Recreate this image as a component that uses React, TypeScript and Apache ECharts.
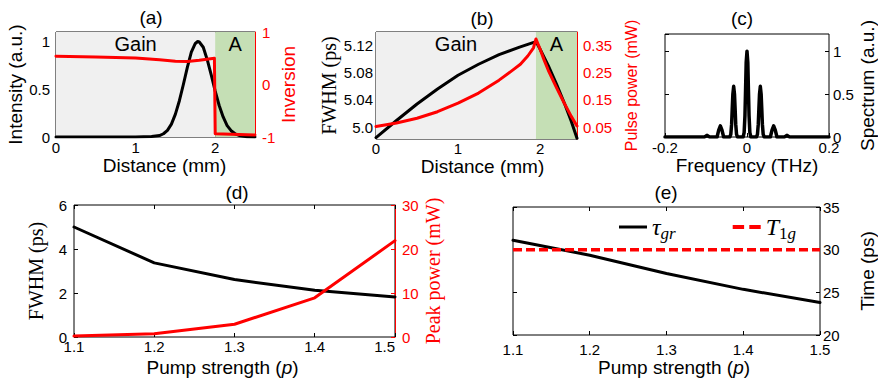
import React, { useEffect, useRef } from "react";
import * as echarts from "echarts";

// ---------- (a) ----------
const aIntX = [0, 0.5, 1.0, 1.1, 1.2, 1.3, 1.35, 1.4, 1.45, 1.5, 1.55, 1.6, 1.65, 1.7, 1.75, 1.78, 1.8, 1.85, 1.9, 1.95, 2.0, 2.05, 2.1, 2.15, 2.2, 2.25, 2.3, 2.4, 2.5];
const aIntY = [0, 0, 0, 0.002, 0.005, 0.015, 0.034, 0.07, 0.135, 0.24, 0.38, 0.55, 0.73, 0.89, 0.98, 1.0, 0.995, 0.94, 0.81, 0.65, 0.48, 0.33, 0.21, 0.12, 0.066, 0.034, 0.016, 0.003, 0];
const aInvX = [0, 0.5, 1.0, 1.3, 1.5, 1.65, 1.8, 1.99, 2.0, 2.5];
const aInvY = [0.54, 0.525, 0.505, 0.47, 0.445, 0.44, 0.46, 0.5, -0.94, -0.96];
const aGainEnd = 2.0;
const aXMax = 2.5;

// ---------- (b) ----------
const bFwhmX = [0, 0.25, 0.5, 0.75, 1.0, 1.25, 1.5, 1.75, 1.95, 2.0, 2.05, 2.1, 2.2, 2.3, 2.38, 2.45];
const bFwhmY = [4.985, 5.01, 5.034, 5.056, 5.076, 5.092, 5.106, 5.117, 5.125, 5.114, 5.102, 5.09, 5.063, 5.034, 5.009, 4.984];
const bPowX = [0, 0.25, 0.5, 0.75, 1.0, 1.25, 1.5, 1.65, 1.76, 1.85, 1.92, 1.95, 2.0, 2.05, 2.1, 2.2, 2.3, 2.38, 2.45];
const bPowY = [0.053, 0.066, 0.083, 0.107, 0.138, 0.175, 0.222, 0.255, 0.28, 0.31, 0.34, 0.372, 0.335, 0.295, 0.258, 0.195, 0.135, 0.09, 0.055];
const bGainEnd = 1.95;
const bXMax = 2.45;
const bLeftTicks = [5.0, 5.04, 5.08, 5.12];
const bRightTicks = [0.05, 0.15, 0.25, 0.35];

// ---------- (c) ----------
const cSpecX = [
  -0.2, -0.104, -0.1, -0.0975, -0.095, -0.091,
  -0.073, -0.069, -0.065, -0.061, -0.057,
  -0.042, -0.0395, -0.0375, -0.036, -0.0345, -0.0325, -0.0305, -0.029, -0.0275, -0.0255, -0.023,
  -0.0095, -0.007, -0.005, -0.0035, -0.002, 0, 0.002, 0.0035, 0.005, 0.007, 0.0095,
  0.023, 0.0255, 0.0275, 0.029, 0.0305, 0.0325, 0.0345, 0.036, 0.0375, 0.0395, 0.042,
  0.057, 0.061, 0.065, 0.069, 0.073,
  0.091, 0.095, 0.0975, 0.1, 0.104, 0.2,
];
const cSpecY = [
  0, 0, 0.01, 0.02, 0.01, 0,
  0, 0.08, 0.13, 0.08, 0,
  0, 0.03, 0.15, 0.33, 0.5, 0.59, 0.5, 0.33, 0.15, 0.03, 0,
  0, 0.05, 0.25, 0.55, 0.87, 1.0, 0.87, 0.55, 0.25, 0.05, 0,
  0, 0.03, 0.15, 0.33, 0.5, 0.59, 0.5, 0.33, 0.15, 0.03, 0,
  0, 0.08, 0.13, 0.08, 0,
  0, 0.01, 0.02, 0.01, 0, 0,
];

// ---------- (d) & (e) ----------
const pump = [1.1, 1.2, 1.3, 1.4, 1.5];
const dFwhm = [5.0, 3.37, 2.61, 2.13, 1.82];
const dPeakPower = [0.2, 0.76, 2.9, 8.9, 21.9];
const eTauGr = [31.1, 29.35, 27.2, 25.35, 23.8];
const eT1g = [30, 30, 30, 30, 30];

const RED = "#ff0000";
const GRAY_BG = "#f0f0f0";
const GREEN_BG = "#c5dfb5";
const SANS = "Liberation Sans, Arial, sans-serif";
const SERIF = "Liberation Serif, Times New Roman, serif";
const TICK_FS = 15;

const zip = (xs: number[], ys: number[]) => xs.map((x, i) => [x, ys[i]]);

function xAx(grid: number, min: number, max: number, interval: number, extra: any = {}) {
  return {
    type: "value",
    gridIndex: grid,
    min,
    max,
    interval,
    splitLine: { show: false },
    axisLine: { show: false, onZero: false },
    axisTick: { show: true, inside: true, length: 4, lineStyle: { color: "#000" } },
    axisLabel: { color: "#000", fontSize: TICK_FS, fontFamily: SANS, margin: 3 },
    nameLocation: "middle",
    nameTextStyle: { color: "#000", fontSize: 19, fontFamily: SANS },
    ...extra,
  };
}

function yAx(grid: number, position: string, min: number, max: number, interval: number | undefined, color: string, extra: any = {}) {
  const o: any = {
    type: "value",
    gridIndex: grid,
    position,
    min,
    max,
    splitLine: { show: false },
    axisLine: { show: color !== "#000", onZero: false, lineStyle: { color, width: 1 } },
    axisTick: { show: true, inside: true, length: 4, lineStyle: { color } },
    axisLabel: { color, fontSize: TICK_FS, fontFamily: SANS, margin: 6 },
    nameLocation: "middle",
    nameRotate: 90,
    nameTextStyle: { color, fontSize: 19, fontFamily: SANS },
    ...extra,
  };
  if (interval !== undefined) o.interval = interval;
  return o;
}

function mirrorX(grid: number, min: number, max: number, interval: number) {
  return xAx(grid, min, max, interval, { position: "top", axisLabel: { show: false } });
}

function mirrorY(grid: number, position: string, min: number, max: number, interval: number) {
  return yAx(grid, position, min, max, interval, "#000", { axisLabel: { show: false }, axisLine: { show: false, onZero: false } });
}

function regions(gainEnd: number, xMax: number) {
  const lbl = { show: true, position: "insideTop", distance: 2, color: "#000", fontSize: 20, fontFamily: SANS };
  return {
    silent: true,
    data: [
      [{ xAxis: 0, itemStyle: { color: GRAY_BG }, label: { ...lbl, formatter: "Gain" } }, { xAxis: gainEnd }],
      [{ xAxis: gainEnd, itemStyle: { color: GREEN_BG }, label: { ...lbl, formatter: "A" } }, { xAxis: xMax }],
    ],
  };
}

const lineS = (name: string, xi: number, yi: number, data: any, color: string, extra: any = {}) => ({
  type: "line",
  name,
  xAxisIndex: xi,
  yAxisIndex: yi,
  data,
  symbol: "none",
  showSymbol: false,
  lineStyle: { color, width: 3, join: "round", cap: "round" },
  itemStyle: { color },
  z: 3,
  ...extra,
});

const SOLID_ICON = "path://M0,0 L28,0 L28,3 L0,3 Z";
const DASH_ICON = "path://M0,0 L11,0 L11,4 L0,4 Z M16,0 L27,0 L27,4 L16,4 Z";

export default function App() {
  const ref = useRef<HTMLDivElement>(null);
  useEffect(() => {
    if (!ref.current) return;
    const chart = echarts.init(ref.current, undefined, { renderer: "svg" });
    const gridBase = { show: true, borderColor: "#000", borderWidth: 1, containLabel: false };
    const lblK = { color: "#000", fontSize: TICK_FS, fontFamily: SANS };
    const lblR = { color: RED, fontSize: TICK_FS, fontFamily: SANS };
    const option: any = {
      animation: false,
      backgroundColor: "#fff",
      grid: [
        { ...gridBase, left: 56, top: 32, width: 199, height: 105, backgroundColor: GRAY_BG },
        { ...gridBase, left: 376, top: 32, width: 201, height: 107, backgroundColor: GRAY_BG },
        { ...gridBase, left: 665, top: 34, width: 164, height: 103 },
        { ...gridBase, left: 74, top: 205, width: 321, height: 132 },
        { ...gridBase, left: 513, top: 207, width: 309, height: 128 },
      ],
      xAxis: [
        xAx(0, 0, aXMax, 1, {
          name: "Distance (mm)",
          nameGap: 18,
          axisLabel: { ...lblK, margin: 3, showMaxLabel: false },
          nameTextStyle: { color: "#000", fontSize: 19, fontFamily: SANS, padding: [0, 0, 0, 18] },
        }),
        xAx(1, 0, bXMax, 1, {
          name: "Distance (mm)",
          nameGap: 16,
          axisLabel: { ...lblK, margin: 2, showMaxLabel: false },
          nameTextStyle: { color: "#000", fontSize: 19, fontFamily: SANS, padding: [0, 0, 0, 12] },
        }),
        xAx(2, -0.2, 0.2, 0.2, { name: "Frequency (THz)", nameGap: 18 }),
        xAx(3, 1.1, 1.5, 0.1, {
          name: "Pump strength ({it|p})",
          nameGap: 21,
          axisLabel: { ...lblK, margin: 2, alignMaxLabel: "right", formatter: (v: number) => v.toFixed(1) },
          nameTextStyle: { color: "#000", fontSize: 19, fontFamily: SANS, padding: [0, 24, 0, 0], rich: { it: { fontStyle: "italic", fontSize: 19, fontFamily: SANS, color: "#000" } } },
        }),
        xAx(4, 1.1, 1.5, 0.1, {
          name: "Pump strength ({it|p})",
          nameGap: 23,
          axisLabel: { ...lblK, margin: 7, formatter: (v: number) => v.toFixed(1) },
          nameTextStyle: { color: "#000", fontSize: 19, fontFamily: SANS, padding: [0, 0, 0, 15], rich: { it: { fontStyle: "italic", fontSize: 19, fontFamily: SANS, color: "#000" } } },
        }),
        mirrorX(3, 1.1, 1.5, 0.1),
        mirrorX(4, 1.1, 1.5, 0.1),
      ],
      yAxis: [
        yAx(0, "left", 0, 1.1, 0.5, "#000", { name: "Intensity (a.u.)", nameGap: 27, axisLabel: { ...lblK, margin: 6, showMaxLabel: false } }),
        yAx(0, "right", -1, 1, 1, RED, { name: "Inversion", nameGap: 20, axisLabel: { ...lblR, margin: 7 } }),
        mirrorY(0, "right", 0, 1.1, 0.5),
        yAx(1, "left", 4.983, 5.139, undefined, "#000", {
          name: "FWHM (ps)",
          nameGap: 37,
          nameTextStyle: { color: "#000", fontSize: 20, fontFamily: SERIF },
          axisLabel: { ...lblK, margin: 3, customValues: bLeftTicks, formatter: (v: number) => (Math.abs(v - 5) < 1e-9 ? "5.0" : v.toFixed(2)) },
          axisTick: { show: true, inside: true, length: 4, customValues: bLeftTicks, lineStyle: { color: "#000" } },
        }),
        yAx(1, "right", 0.0075, 0.3975, undefined, RED, {
          name: "Pulse power (mW)",
          nameGap: 46,
          nameTextStyle: { color: RED, fontSize: 16, fontFamily: SANS },
          axisLabel: { ...lblR, margin: 6, customValues: bRightTicks, formatter: (v: number) => v.toFixed(2) },
          axisTick: { show: true, inside: true, length: 4, customValues: bRightTicks, lineStyle: { color: RED } },
        }),
        yAx(2, "right", 0, 1.2, 0.5, "#000", { name: "Spectrum (a.u.)", nameGap: 29, axisLabel: { ...lblK, margin: 4, showMaxLabel: false } }),
        mirrorY(2, "left", 0, 1.2, 0.5),
        yAx(3, "left", 0, 6, 2, "#000", { name: "FWHM (ps)", nameGap: 28, nameTextStyle: { color: "#000", fontSize: 20, fontFamily: SERIF }, axisLabel: { ...lblK, margin: 7 } }),
        yAx(3, "right", 0, 30, 10, RED, { name: "Peak power (mW)", nameGap: 28, nameTextStyle: { color: RED, fontSize: 20, fontFamily: SERIF }, axisLabel: { ...lblR, margin: 7 } }),
        yAx(4, "right", 20, 35, 5, "#000", { name: "Time (ps)", nameGap: 38, axisLabel: { ...lblK, margin: 3 } }),
        mirrorY(4, "left", 20, 35, 5),
      ],
      legend: {
        left: 614,
        top: 210,
        itemWidth: 28,
        itemHeight: 14,
        itemGap: 57,
        data: [
          { name: "τgr", icon: SOLID_ICON },
          { name: "T1g", icon: DASH_ICON },
        ],
        formatter: (name: string) => (name === "τgr" ? "{i|τ}{s|gr}" : "{i|T}{n|1}{s|g}"),
        textStyle: {
          color: "#000",
          rich: {
            i: { fontFamily: SERIF, fontStyle: "italic", fontSize: 24, color: "#000" },
            s: { fontFamily: SERIF, fontStyle: "italic", fontSize: 17, color: "#000", padding: [12, 0, 0, 0] },
            n: { fontFamily: SERIF, fontSize: 17, color: "#000", padding: [12, 0, 0, 0] },
          },
        },
      },
      graphic: [
        { type: "text", x: 151, y: 17, style: { text: "(a)", fontSize: 19, fontFamily: SANS, fill: "#000", textAlign: "center", textVerticalAlign: "middle" } },
        { type: "text", x: 482, y: 18, style: { text: "(b)", fontSize: 19, fontFamily: SANS, fill: "#000", textAlign: "center", textVerticalAlign: "middle" } },
        { type: "text", x: 742, y: 18, style: { text: "(c)", fontSize: 19, fontFamily: SANS, fill: "#000", textAlign: "center", textVerticalAlign: "middle" } },
        { type: "text", x: 237, y: 192, style: { text: "(d)", fontSize: 19, fontFamily: SANS, fill: "#000", textAlign: "center", textVerticalAlign: "middle" } },
        { type: "text", x: 666, y: 192, style: { text: "(e)", fontSize: 19, fontFamily: SANS, fill: "#000", textAlign: "center", textVerticalAlign: "middle" } },
      ],
      series: [
        lineS("Intensity", 0, 0, zip(aIntX, aIntY), "#000", { markArea: regions(aGainEnd, aXMax), z: 2 }),
        lineS("Inversion", 0, 1, zip(aInvX, aInvY), RED),
        lineS("FWHM b", 1, 3, zip(bFwhmX, bFwhmY), "#000", { markArea: regions(bGainEnd, bXMax), z: 2 }),
        lineS("Pulse power", 1, 4, zip(bPowX, bPowY), RED),
        lineS("Spectrum", 2, 5, zip(cSpecX, cSpecY), "#000", { lineStyle: { color: "#000", width: 3.5, join: "round", cap: "round" } }),
        lineS("FWHM d", 3, 7, zip(pump, dFwhm), "#000"),
        lineS("Peak power", 3, 8, zip(pump, dPeakPower), RED),
        lineS("τgr", 4, 9, zip(pump, eTauGr), "#000"),
        lineS("T1g", 4, 9, zip(pump, eT1g), RED, { lineStyle: { color: RED, width: 3.5, type: [9, 4] } }),
      ],
    };
    chart.setOption(option);
    return () => chart.dispose();
  }, []);
  return <div ref={ref} style={{ position: "fixed", left: 0, top: 0, width: 878, height: 379, background: "#fff" }} />;
}
